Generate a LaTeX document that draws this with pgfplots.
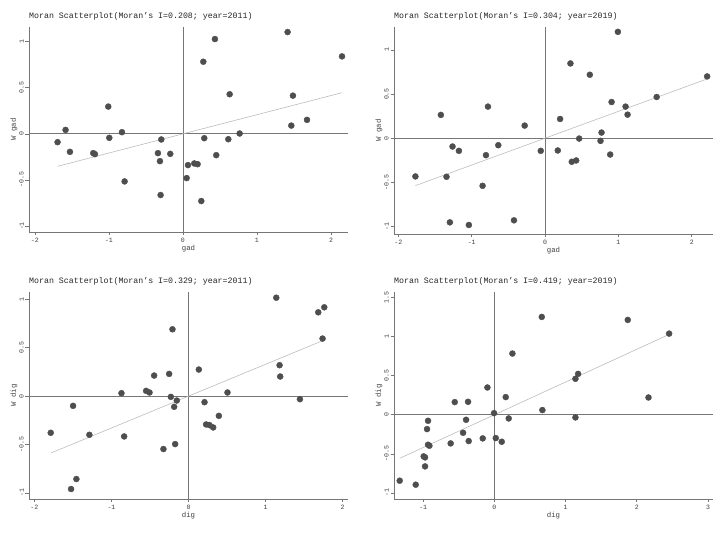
\documentclass[border=0pt]{standalone}
\usepackage{fontspec}
\setmainfont{Liberation Mono}
\usepackage{pgfplots}
\pgfplotsset{compat=1.18}
\definecolor{dotgray}{RGB}{78,78,78}
\definecolor{axgray}{RGB}{118,118,118}
\definecolor{fitgray}{RGB}{188,188,188}

\pgfplotsset{
  moran/.style={
    scale only axis, anchor=south west,
    width=319bp,
    axis x line=bottom, axis y line=left,
    axis line style={-, axgray, line width=0.9pt},
    tick style={axgray, line width=0.7pt},
    tick align=outside, major tick length=3.5bp,
    /pgf/number format/assume math mode=true,
    ticklabel style={font=\fontsize{6.6}{7.5}\selectfont, text=black!75},
    yticklabel style={rotate=90, anchor=south, inner sep=1.5bp},
    xticklabel style={inner sep=2bp},
    label style={font=\fontsize{7.4}{8.5}\selectfont, text=black!75},
    xlabel style={yshift=3bp},
    ylabel style={yshift=-3bp},
    title style={font=\fontsize{8.3}{10}\selectfont, text=black!85,
      anchor=south west, at={(rel axis cs:0,1)}, inner sep=1bp, xshift=-1bp},
    clip=false,
  },
  refline/.style={axgray, line width=0.9pt, forget plot},
  fitline/.style={fitgray, line width=0.6pt, forget plot},
  dots/.style={only marks, mark=*, mark size=3bp, dotgray,
    mark options={fill=dotgray, draw=dotgray}},
}

\begin{document}
\begin{tikzpicture}
\useasboundingbox (0,0) rectangle (724bp,533bp);

% gad 2011
\begin{axis}[moran, at={(29bp,301bp)}, height=205bp,
  xmin=-2.08, xmax=2.23, ymin=-1.065, ymax=1.16,
  xtick={-2,-1,0,1,2}, ytick={-1,-0.5,0,0.5,1},
  xlabel={gad}, ylabel={W gad},
  title={Moran Scatterplot(Moran's I=0.208; year=2011)}]
\addplot[refline] coordinates {(0,-1.065) (0,1.16)};
\addplot[refline] coordinates {(-2.08,0) (2.23,0)};
\addplot[fitline] coordinates {(-1.694,-0.352) (2.149,0.447)};
\addplot[dots] coordinates {
 (-1.694,-0.090) (-1.586,0.043) (-1.527,-0.195) (-1.212,-0.209) (-1.189,-0.220)
 (-1.009,0.296) (-0.995,-0.043) (-0.824,0.018) (-0.788,-0.516) (-0.338,-0.209)
 (-0.293,-0.061) (-0.311,-0.296) (-0.302,-0.664) (-0.171,-0.217) (0.050,-0.480)
 (0.068,-0.339) (0.153,-0.321) (0.198,-0.329) (0.248,-0.729) (0.275,0.783)
 (0.288,-0.047) (0.432,1.029) (0.450,-0.231) (0.613,-0.058) (0.631,0.430)
 (0.766,0.004) (1.414,1.105) (1.464,0.090) (1.486,0.415) (1.676,0.152)
 (2.149,0.841)
};
\end{axis}

% gad 2019
\begin{axis}[moran, at={(394bp,299bp)}, height=207bp,
  xmin=-2.06, xmax=2.29, ymin=-1.085, ymax=1.26,
  xtick={-2,-1,0,1,2}, ytick={-1,-0.5,0,0.5,1},
  xlabel={gad}, ylabel={W gad},
  title={Moran Scatterplot(Moran's I=0.304; year=2019)}]
\addplot[refline] coordinates {(0,-1.085) (0,1.26)};
\addplot[refline] coordinates {(-2.06,0) (2.29,0)};
\addplot[fitline] coordinates {(-1.768,-0.537) (2.210,0.672)};
\addplot[dots] coordinates {
 (-1.768,-0.433) (-1.421,0.264) (-1.344,-0.437) (-1.298,-0.953) (-1.262,-0.094)
 (-1.175,-0.143) (-1.039,-0.983) (-0.852,-0.539) (-0.806,-0.192) (-0.779,0.358)
 (-0.638,-0.079) (-0.424,-0.930) (-0.278,0.143) (-0.059,-0.143) (0.173,-0.139)
 (0.205,0.218) (0.346,0.847) (0.364,-0.267) (0.424,-0.252) (0.465,-0.004)
 (0.610,0.719) (0.756,-0.030) (0.770,0.064) (0.888,-0.185) (0.907,0.410)
 (0.993,1.205) (1.098,0.358) (1.125,0.267) (1.522,0.467) (2.210,0.700)
};
\end{axis}

% dig 2011
\begin{axis}[moran, at={(29bp,34bp)}, height=207bp,
  xmin=-2.07, xmax=2.07, ymin=-1.062, ymax=1.076,
  xtick={-2,-1,0,1,2}, ytick={-1,-0.5,0,0.5,1},
  xlabel={dig}, ylabel={W dig},
  title={Moran Scatterplot(Moran's I=0.329; year=2011)}]
\addplot[refline] coordinates {(0,-1.062) (0,1.076)};
\addplot[refline] coordinates {(-2.07,0) (2.07,0)};
\addplot[fitline] coordinates {(-1.788,-0.588) (1.762,0.580)};
\addplot[dots] coordinates {
 (-1.788,-0.378) (-1.524,-0.959) (-1.498,-0.100) (-1.455,-0.856) (-1.286,-0.399)
 (-0.870,0.031) (-0.835,-0.416) (-0.550,0.055) (-0.506,0.038) (-0.446,0.213)
 (-0.325,-0.546) (-0.251,0.230) (-0.229,-0.007) (-0.208,0.691) (-0.186,-0.110)
 (-0.173,-0.495) (-0.152,-0.045) (0.134,0.275) (0.208,-0.062) (0.229,-0.292)
 (0.273,-0.299) (0.320,-0.323) (0.394,-0.203) (0.506,0.038) (1.139,1.017)
 (1.182,0.320) (1.190,0.203) (1.446,-0.031) (1.684,0.866) (1.740,0.595)
 (1.762,0.918)
};
\end{axis}

% dig 2019
\begin{axis}[moran, at={(394bp,34bp)}, height=207bp,
  xmin=-1.41, xmax=3.07, ymin=-1.077, ymax=1.57,
  xtick={-1,0,1,2,3}, ytick={-1,-0.5,0,0.5,1,1.5},
  xlabel={dig}, ylabel={W dig},
  title={Moran Scatterplot(Moran's I=0.419; year=2019)}]
\addplot[refline] coordinates {(0,-1.077) (0,1.57)};
\addplot[refline] coordinates {(-1.41,0) (3.07,0)};
\addplot[fitline] coordinates {(-1.330,-0.557) (2.454,1.028)};
\addplot[dots] coordinates {
 (-1.330,-0.843) (-1.105,-0.894) (-0.993,-0.532) (-0.974,-0.545) (-0.974,-0.660)
 (-0.932,-0.077) (-0.946,-0.183) (-0.932,-0.383) (-0.913,-0.396) (-0.614,-0.366)
 (-0.557,0.162) (-0.440,-0.230) (-0.398,-0.064) (-0.370,0.166) (-0.361,-0.336)
 (-0.164,-0.302) (-0.098,0.349) (-0.005,0.021) (0.019,-0.298) (0.103,-0.345)
 (0.159,0.226) (0.201,-0.047) (0.253,0.783) (0.665,1.251) (0.674,0.060)
 (1.138,0.460) (1.138,-0.034) (1.176,0.523) (1.873,1.213) (2.164,0.221)
 (2.454,1.038)
};
\end{axis}
\end{tikzpicture}
\end{document}
